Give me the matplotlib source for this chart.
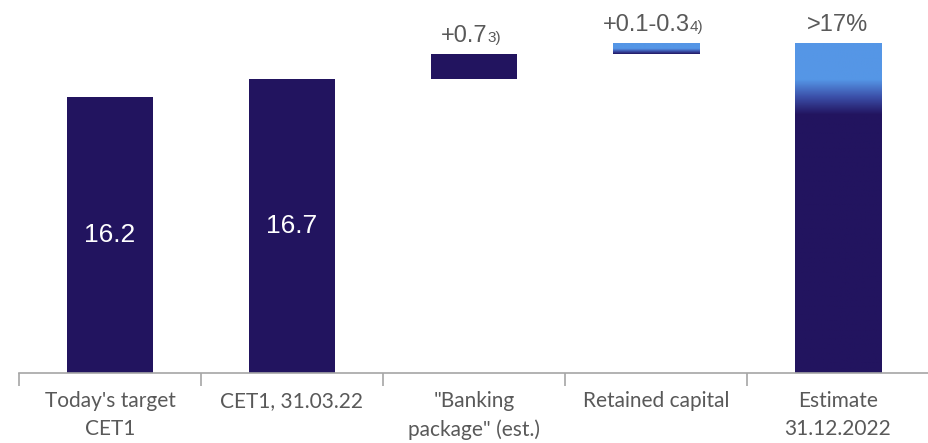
import numpy as np
import matplotlib
matplotlib.use("Agg")
import matplotlib.pyplot as plt
from matplotlib.colors import LinearSegmentedColormap
from matplotlib.patches import Rectangle

categories = ["Today's target\nCET1", "CET1, 31.03.22", "\"Banking\npackage\" (est.)",
              "Retained capital", "Estimate\n31.12.2022"]
target_cet1 = 16.2
cet1_q1 = 16.7
banking = 0.7
retained = 0.3
estimate = cet1_q1 + banking + retained
bar_labels = ["16.2", "16.7", "+0.7", "+0.1-0.3", ">17%"]
footnotes = ["", "", "3)", "4)", ""]

navy = "#22145F"
light = "#5596E6"
grey = "#595959"
y_min = 8.53

fig = plt.figure(figsize=(9.29, 4.43), dpi=100)
ax = fig.add_axes([19 / 929, 70 / 443, 910 / 929, 373 / 443])

x = np.arange(len(categories))
width = 0.475
bottoms = [y_min, y_min, cet1_q1, cet1_q1 + banking, y_min]
tops = [target_cet1, cet1_q1, cet1_q1 + banking, estimate, estimate]


def gradient_bar(ax, xc, bottom, top, dark_until, light_from):
    # vertical gradient: navy below dark_until, light blue above light_from
    rect = Rectangle((xc - width / 2, bottom), width, top - bottom,
                     facecolor="none", edgecolor="none")
    ax.add_patch(rect)
    ys = np.linspace(bottom, top, 400)
    t = np.clip((ys - dark_until) / (light_from - dark_until), 0, 1)
    cmap = LinearSegmentedColormap.from_list("g", [navy, "#3B4FA8", light])
    im = ax.imshow(t[:, None], cmap=cmap, vmin=0, vmax=1, origin="lower",
                   extent=(xc - width / 2, xc + width / 2, bottom, top),
                   aspect="auto", interpolation="bilinear", zorder=2)
    im.set_clip_path(rect)


for i in range(3):
    ax.bar(x[i], tops[i] - bottoms[i], bottom=bottoms[i], width=width,
           color=navy, zorder=2)
gradient_bar(ax, x[3], bottoms[3], tops[3], cet1_q1 + banking, estimate - 0.15)
gradient_bar(ax, x[4], bottoms[4], tops[4], 15.7, 16.67)

# value labels
for i in range(2):
    ax.text(x[i], (bottoms[i] + tops[i]) / 2, bar_labels[i], ha="center",
            va="center", color="white", fontsize=19, family="Liberation Sans")
for i in range(2, 5):
    shift = -7 if footnotes[i] else 0
    t = ax.annotate(bar_labels[i], xy=(x[i], tops[i]), xytext=(shift, 5),
                    textcoords="offset points", ha="center", va="bottom",
                    color=grey, fontsize=17, family="Liberation Sans")
    if footnotes[i]:
        ax.annotate(footnotes[i], xy=(1, 0.1), xycoords=t, ha="left",
                    va="bottom", color=grey, fontsize=11,
                    family="Liberation Sans")

ax.set_xlim(-0.5, len(categories) - 0.5)
ax.set_ylim(y_min, y_min + 373 / 36)
for s in ["top", "left", "right"]:
    ax.spines[s].set_visible(False)
ax.spines["bottom"].set_color("#A6A6A6")
ax.spines["bottom"].set_linewidth(1.2)
ax.set_yticks([])
ax.set_xticks(x)
ax.set_xticklabels(categories, fontsize=15, color=grey, family="Lato",
                   linespacing=1.5)
ax.tick_params(axis="x", which="major", length=0, pad=13)
ax.set_xticks(np.arange(len(categories) + 1) - 0.5, minor=True)
ax.tick_params(axis="x", which="minor", length=9, color="#A6A6A6", width=1.2)

fig.savefig("out.png", dpi=100)
